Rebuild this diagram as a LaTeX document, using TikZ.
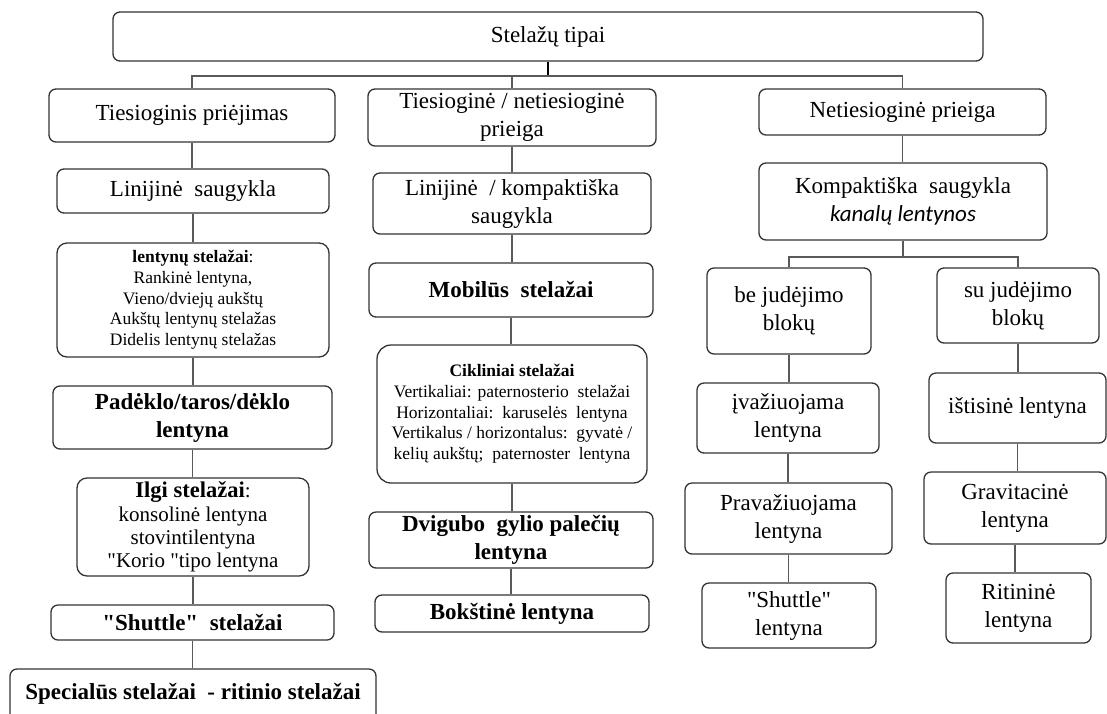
\documentclass[tikz,border=0pt]{standalone}
\usepackage{fontspec}
\setmainfont{Liberation Serif}[Ligatures=TeXOff]
\newfontfamily\calibfont{Carlito}
\begin{document}
\begin{tikzpicture}[x=1pt,y=-1pt,
  box/.style={draw=black!80,line width=1.3pt,rounded corners=7pt,fill=white,align=center,inner sep=1pt,font=\fontsize{23}{28}\selectfont},
  boldbox/.style={box,font=\bfseries\fontsize{23}{28}\selectfont},
  smallbox/.style={box,font=\fontsize{17.5}{20.7}\selectfont},
  conn/.style={draw=black!65,line width=1.4pt},
  thickconn/.style={draw=black,line width=2.4pt}]
\useasboundingbox (0,0) rectangle (1107,713);
\clip (0,0) rectangle (1107,713);
\fill[white] (0,0) rectangle (1107,713);

% top
\node[box,minimum width=870pt,minimum height=49pt] (top) at (548,36.5) {Stelažų tipai};

% level 1
\node[box,minimum width=286pt,minimum height=53pt] (L1a) at (192,115.5) {Tiesioginis priėjimas};
\node[box,minimum width=288pt,minimum height=57pt] (L1b) at (512,117.5) {Tiesioginė / netiesioginė\\prieiga};
\node[box,minimum width=287pt,minimum height=46pt] (L1c) at (902.5,112) {Netiesioginė prieiga};
\coordinate (bar) at (548,76);

% left column
\node[box,minimum width=272pt,minimum height=44pt] (a1) at (193,191) {Linijinė\ \ saugykla};
\node[smallbox,rounded corners=10pt,minimum width=272pt,minimum height=114pt] (a2) at (193,300)
  {\textbf{lentynų stelažai}:\\Rankinė lentyna,\\Vieno/dviejų aukštų\\Aukštų lentynų stelažas\\Didelis lentynų stelažas};
\node[boldbox,minimum width=279pt,minimum height=63pt] (a3) at (192.5,417.5) {Padėklo/taros/dėklo\\lentyna};
\node[box,font=\fontsize{21}{23.3}\selectfont,rounded corners=10pt,minimum width=232pt,minimum height=98pt] (a4) at (193,527)
  {{\fontsize{22.5}{23.3}\selectfont\bfseries Ilgi stelažai}:\\konsolinė lentyna\\stovintilentyna\\"Korio "tipo lentyna};
\node[boldbox,minimum width=283pt,minimum height=35pt] (a5) at (192.5,622.5) {"Shuttle"\ \ stelažai};
\node[boldbox,minimum width=366pt,minimum height=60pt,text height=20pt,text depth=19pt] (a6) at (193,699) {Specialūs stelažai\ \ - ritinio stelažai};

% middle column
\node[box,minimum width=278pt,minimum height=61pt] (b1) at (512,203.5) {Linijinė\ \ / kompaktiška\\saugykla};
\node[boldbox,minimum width=284pt,minimum height=54pt] (b2) at (511,290) {Mobilūs\ \ stelažai};
\node[smallbox,rounded corners=14pt,minimum width=270pt,minimum height=138pt] (b3) at (512,414)
  {\textbf{Cikliniai stelažai}\\Vertikaliai: paternosterio\ \ stelažai\\Horizontaliai:\ \ karuselės\ \ lentyna\\Vertikalus / horizontalus:\ \ gyvatė /\\kelių aukštų;\ \ paternoster\ \ lentyna};
\node[boldbox,minimum width=284pt,minimum height=56pt] (b4) at (511,540) {Dvigubo\ \ gylio palečių\\lentyna};
\node[boldbox,minimum width=274pt,minimum height=37pt] (b5) at (512,613.5) {Bokštinė lentyna};

% right part
\node[box,minimum width=288pt,minimum height=77pt] (c1) at (903,201.5) {Kompaktiška\ \ saugykla\\{\calibfont\itshape kanalų lentynos}};
\coordinate (bar2) at (903,257);
\node[box,minimum width=164pt,minimum height=86pt] (d1) at (789,311) {be judėjimo\\blokų};
\node[box,minimum width=162pt,minimum height=75pt] (e1) at (1018,305.5) {su judėjimo\\blokų};
\node[box,minimum width=182pt,minimum height=70pt] (d2) at (788,418) {įvažiuojama\\lentyna};
\node[box,minimum width=177pt,minimum height=70pt] (e2) at (1017.5,408) {ištisinė lentyna};
\node[box,minimum width=207pt,minimum height=71pt] (d3) at (788.5,518.5) {Pravažiuojama\\lentyna};
\node[box,minimum width=182pt,minimum height=72pt] (e3) at (1015,508) {Gravitacinė\\lentyna};
\node[box,minimum width=174pt,minimum height=65pt] (d4) at (789,615.5) {"Shuttle"\\lentyna};
\node[box,minimum width=145pt,minimum height=70pt] (e4) at (1018.5,608) {Ritininė\\lentyna};

% connectors
\draw[thickconn] (top.south) -- (bar);
\draw[conn] (L1a.north) |- (bar) -| (L1c.north);
\draw[conn] (L1b.north) -- (L1b.north |- bar);

\draw[conn] (L1a.south) -- (L1a.south |- a1.north);
\draw[conn] (a1.south) -- (a1.south |- a2.north);
\draw[conn] (a2.south) -- (a2.south |- a3.north);
\draw[conn] (a3.south) -- (a3.south |- a4.north);
\draw[conn] (a4.south) -- (a4.south |- a5.north);
\draw[conn] (a5.south) -- (a5.south |- a6.north);

\draw[conn] (L1b.south) -- (L1b.south |- b1.north);
\draw[conn] (b1.south) -- (b1.south |- b2.north);
\draw[conn] (b2.south) -- (b2.south |- b3.north);
\draw[conn] (b3.south) -- (b3.south |- b4.north);
\draw[conn] (b4.south) -- (b4.south |- b5.north);

\draw[conn] (L1c.south) -- (L1c.south |- c1.north);
\draw[conn] (c1.south) -- (bar2);
\draw[conn] (d1.north) |- (bar2) -| (e1.north);
\draw[conn] (d1.south) -- (d1.south |- d2.north);
\draw[conn] (d2.south) -- (d2.south |- d3.north);
\draw[conn] (d3.south) -- (d3.south |- d4.north);
\draw[conn] (e1.south) -- (e1.south |- e2.north);
\draw[conn] (e2.south) -- (e2.south |- e3.north);
\draw[conn] (e3.south) -- (e3.south |- e4.north);
\end{tikzpicture}
\end{document}
